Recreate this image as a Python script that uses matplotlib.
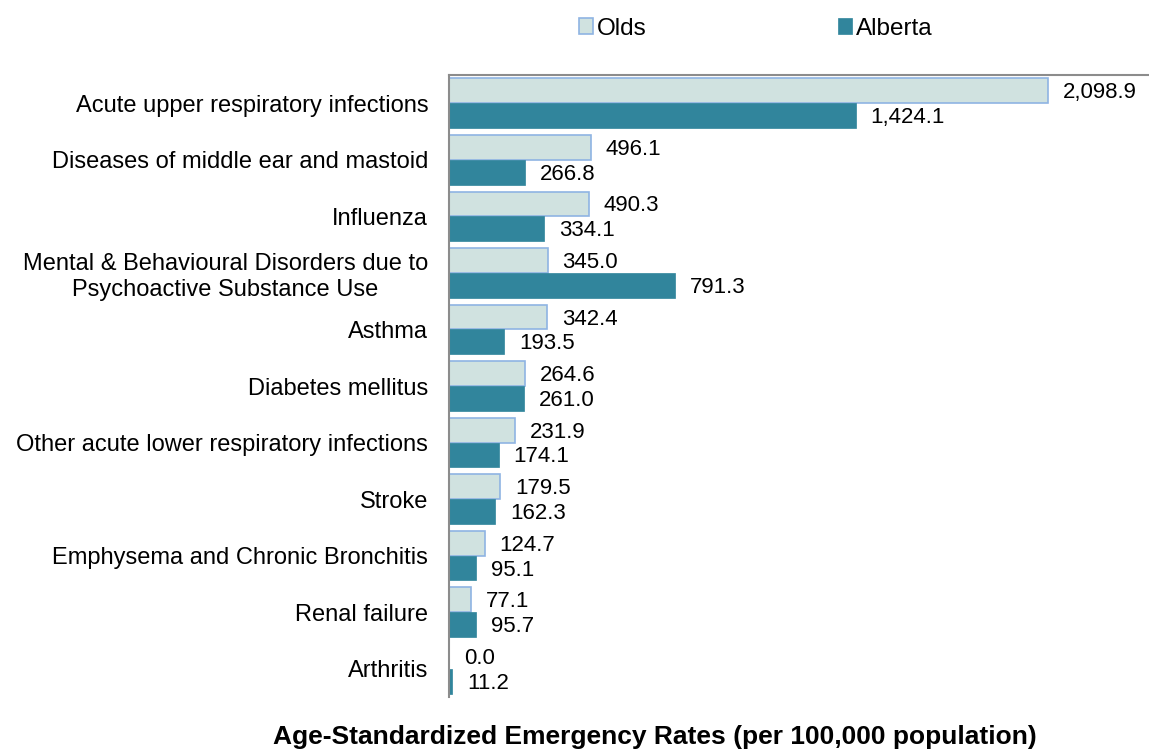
import matplotlib.pyplot as plt
import numpy as np

plt.rcParams['font.family'] = ['Liberation Sans', 'DejaVu Sans']

categories = ['Acute upper respiratory infections',
              'Diseases of middle ear and mastoid',
              'Influenza',
              'Mental & Behavioural Disorders due to\nPsychoactive Substance Use',
              'Asthma',
              'Diabetes mellitus',
              'Other acute lower respiratory infections',
              'Stroke',
              'Emphysema and Chronic Bronchitis',
              'Renal failure',
              'Arthritis']
olds = [2098.9, 496.1, 490.3, 345.0, 342.4, 264.6, 231.9, 179.5, 124.7, 77.1, 0.0]
alberta = [1424.1, 266.8, 334.1, 791.3, 193.5, 261.0, 174.1, 162.3, 95.1, 95.7, 11.2]

olds_color = '#d0e2e0'
olds_edge = '#8fb4e3'
alberta_color = '#31859c'

fig = plt.figure(figsize=(11.49, 7.51), dpi=100)
ax = fig.add_axes([0.3908, 0.072, 0.6092, 0.828])

y = np.arange(len(categories))
h = 0.44
b1 = ax.barh(y - h / 2, olds, height=h, color=olds_color, edgecolor=olds_edge,
             linewidth=1.2, label='Olds')
b2 = ax.barh(y + h / 2, alberta, height=h, color=alberta_color,
             edgecolor=alberta_color, linewidth=0.5, label='Alberta')

# value labels next to each bar
for bars, vals in [(b1, olds), (b2, alberta)]:
    for bar, v in zip(bars, vals):
        ax.annotate(f'{v:,.1f}', (v, bar.get_y() + bar.get_height() / 2),
                    xytext=(15, -2), textcoords='offset pixels',
                    ha='left', va='center', fontsize=16)

ax.set_xlim(0, 2452)
ax.set_ylim(len(categories) - 0.5, -0.5)
ax.set_yticks(y)
ax.set_yticklabels(categories, fontsize=17)
for lbl in ax.get_yticklabels():
    lbl.set_multialignment('center')
ax.tick_params(axis='y', length=0, pad=15)
ax.set_xticks([])

for s in ['right', 'bottom']:
    ax.spines[s].set_visible(False)
for s in ['left', 'top']:
    ax.spines[s].set_color('#8c8c8c')
    ax.spines[s].set_linewidth(1.5)

fig.legend(handles=[b1, b2], loc='center', bbox_to_anchor=(0.658, 0.962),
           ncol=2, frameon=False, fontsize=17.5, handlelength=0.58,
           handleheight=0.58, handletextpad=0.16, columnspacing=7.86)

fig.text(0.570, 0.009, 'Age-Standardized Emergency Rates (per 100,000 population)',
         ha='center', va='baseline', fontsize=19, fontweight='bold')

fig.savefig('out.png', dpi=100)
